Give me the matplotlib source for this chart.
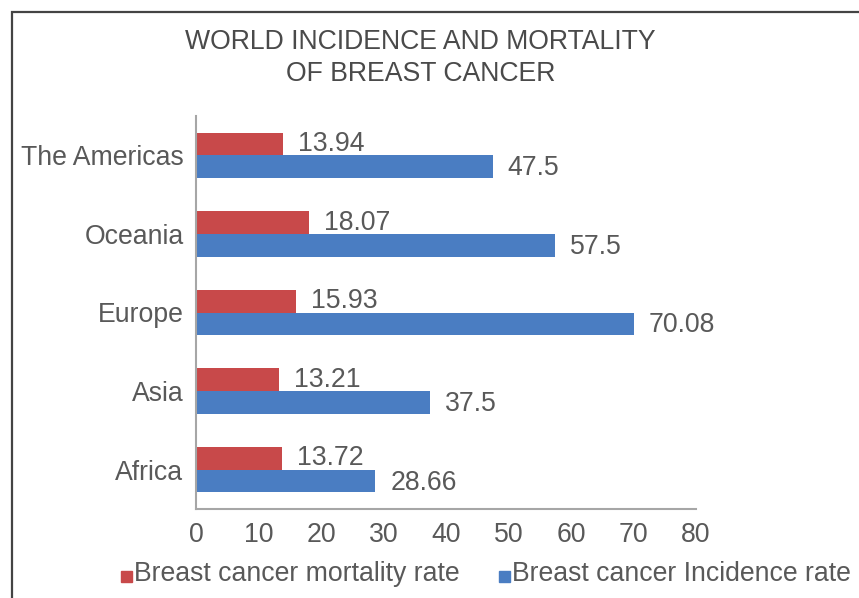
"""World incidence and mortality of breast cancer - grouped horizontal bars."""
import numpy as np, matplotlib
matplotlib.use("Agg")
import matplotlib.pyplot as plt
from matplotlib.patches import Rectangle

regions = ["Africa", "Asia", "Europe", "Oceania", "The Americas"]
mortality = [13.72, 13.21, 15.93, 18.07, 13.94]
incidence = [28.66, 37.5, 70.08, 57.5, 47.5]
xticks = [0, 10, 20, 30, 40, 50, 60, 70, 80]

RED, BLUE = "#C8494A", "#4A7DC2"
TXT, AXC = "#595959", "#a6a6a6"
plt.rcParams.update({"font.family": ["Liberation Sans", "DejaVu Sans"],
                     "font.size": 19.2})

W, H = 859, 598
fig = plt.figure(figsize=(W / 100, H / 100), dpi=100)
fig.patch.set_facecolor("white")
# outer frame of the original (cropped on right / bottom)
fig.patches.append(Rectangle((12 / W, -0.1), 1.2, 1.1 - 12 / H,
                             transform=fig.transFigure, fill=False,
                             edgecolor="#444444", lw=1.6))

ax = fig.add_axes([196 / W, 1 - 509 / H, 500 / W, 393 / H])
y = np.arange(len(regions))
h = 0.29
ax.barh(y + h / 2, mortality, height=h, color=RED, zorder=2)
ax.barh(y - h / 2, incidence, height=h, color=BLUE, zorder=2)

for yi, v in zip(y, mortality):
    ax.text(v + 2.4, yi + h / 2, f"{v:g}", va="center", ha="left", color=TXT)
for yi, v in zip(y, incidence):
    ax.text(v + 2.4, yi - h / 2 - 0.02, f"{v:g}", va="center", ha="left", color=TXT)

ax.set_xlim(0, 80); ax.set_ylim(-0.5, len(regions) - 0.5)
ax.set_xticks(xticks)
ax.set_yticks(y); ax.set_yticklabels(regions)
ax.tick_params(length=0, colors=TXT)
ax.tick_params(axis="x", pad=9)
ax.tick_params(axis="y", pad=9)
for s in ["top", "right"]:
    ax.spines[s].set_visible(False)
for s in ["left", "bottom"]:
    ax.spines[s].set_color(AXC); ax.spines[s].set_linewidth(1.5)
ax.set_facecolor("none")

fig.text(0.4895, 1 - 42 / H, "WORLD INCIDENCE AND MORTALITY", ha="center",
         va="center", color="#4a4a4a")
fig.text(0.4895, 1 - 74 / H, "OF BREAST CANCER", ha="center",
         va="center", color="#4a4a4a")

# legend row
ly = 1 - 574 / H
for x0, c, lab in [(121, RED, "Breast cancer mortality rate"),
                   (499, BLUE, "Breast cancer Incidence rate")]:
    fig.patches.append(Rectangle((x0 / W, ly - 8 / H), 11 / W, 11 / H,
                                 transform=fig.transFigure, color=c))
    fig.text((x0 + 13) / W, ly, lab, ha="left", va="center", color=TXT)

fig.savefig("out.png", dpi=100)
